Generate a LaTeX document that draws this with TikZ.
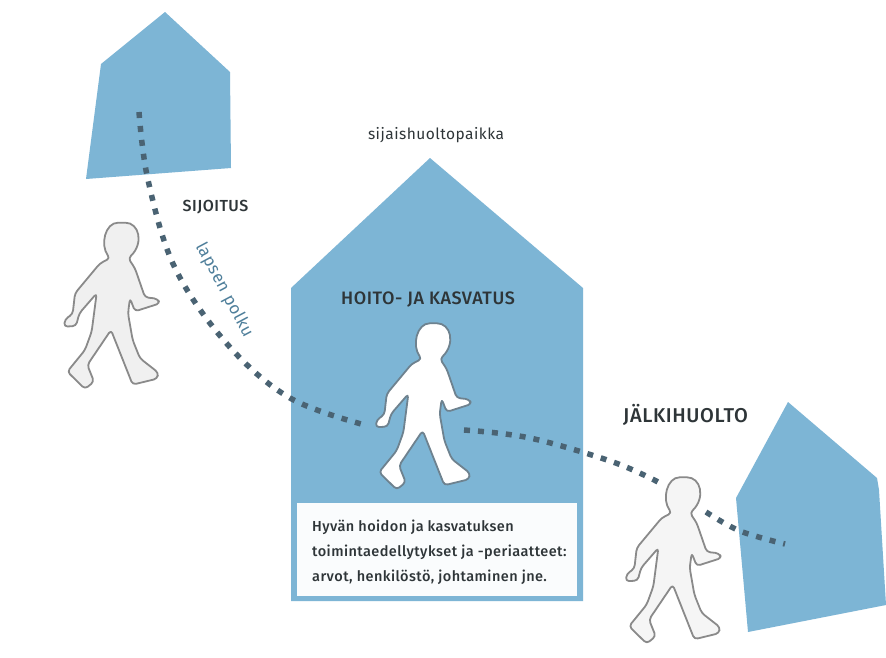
\documentclass[tikz,border=0pt]{standalone}
\usepackage{fontspec}
\setmainfont{Fira Sans}
\newfontfamily\labelfont[LetterSpace=3,BoldFont={Fira Sans Medium}]{Fira Sans}
\definecolor{houseblue}{HTML}{7DB5D5}
\definecolor{trail}{HTML}{4A6373}
\definecolor{inktext}{HTML}{2E3538}
\definecolor{pathtext}{HTML}{4F7F9B}
\tikzset{
  house/.style={fill=houseblue,draw=none},
  trailline/.style={draw=trail,line width=5.5pt,dash pattern=on 6pt off 8pt},
  heading/.style={font=\labelfont\bfseries\fontsize{18}{20}\selectfont,text=inktext,inner sep=0pt},
  person/.pic={
    \path[pic actions,line width=1.8pt,line join=round,rounded corners=3.5pt]
      (180,205) .. controls (150,165) and (165,98) .. (215,98)
      .. controls (268,98) and (282,160) .. (235,205)
      -- (255,235) -- (285,322) -- (322,326) -- (330,340) -- (255,364) -- (240,325)
      -- (234,370) -- (248,450) -- (270,505) -- (325,548) -- (322,566) -- (248,584)
      -- (183,420) -- (112,525) -- (132,575) -- (105,597) -- (52,545) -- (105,480)
      -- (125,425) -- (140,310) -- (88,370) -- (78,408) -- (42,410) -- (45,388) -- (68,372)
      -- (75,310) -- (150,220) -- cycle;
  }
}
\begin{document}
\begin{tikzpicture}[x=1pt,y=-1pt]
\useasboundingbox (0,0) rectangle (886,657);
\fill[white] (0,0) rectangle (886,657);
% houses
\path[house] (165,12) -- (230,72) -- (231,168) -- (86,179) -- (101,64) -- cycle;
\path[house] (430,158) -- (583,288) -- (583,601) -- (291,601) -- (291,288) -- cycle;
\path[house] (788,402) -- (877,478) -- (879,490) -- (886,605) -- (748,632) -- (736,498) -- cycle;
% white panel
\fill[white!96!houseblue] (297,503) rectangle (577,596);
% child's path
\draw[trailline] plot[smooth,tension=.6] coordinates{(139,112)(148,180)(175,268)(228,345)(290,398)(365,425)};
\draw[trailline] plot[smooth,tension=.6] coordinates{(464,430)(530,438)(613,462)(660,483)};
\draw[trailline] plot[smooth,tension=.6] coordinates{(706,512)(740,531)(785,544)};
% people
\pic[fill=gray!12,draw=gray!85!black!80,scale=.3333] at (50,190) {person};
\pic[fill=white,draw=trail!80,scale=.3333] at (361.7,290.6) {person};
\pic[fill=gray!8,draw=gray!85!black!80,scale=.3333] at (611.7,444.6) {person};
% labels
\node[font=\labelfont\fontsize{15.5}{17}\selectfont,text=inktext,inner sep=0pt] (place) at (436,135) {sijaishuoltopaikka};
\node[heading,font=\labelfont\bfseries\fontsize{16}{18}\selectfont] (sij) at (215.5,207) {SIJOITUS};
\node[heading] (hoito) at (428,300) {HOITO- JA KASVATUS};
\node[heading,font=\labelfont\bfseries\fontsize{20}{22}\selectfont] (jalki) at (685.5,415) {JÄLKIHUOLTO};
\node[font=\labelfont\fontsize{17}{19}\selectfont,text=pathtext,rotate=-62,inner sep=0pt] (polku) at (224,290) {lapsen polku};
\node[font=\labelfont\bfseries\fontsize{14.5}{25}\selectfont,text=inktext,align=left,anchor=west,inner sep=0pt] (panel) at (312,552)
  {Hyvän hoidon ja kasvatuksen\\toimintaedellytykset ja -periaatteet:\\arvot, henkilöstö, johtaminen jne.};
\end{tikzpicture}
\end{document}
